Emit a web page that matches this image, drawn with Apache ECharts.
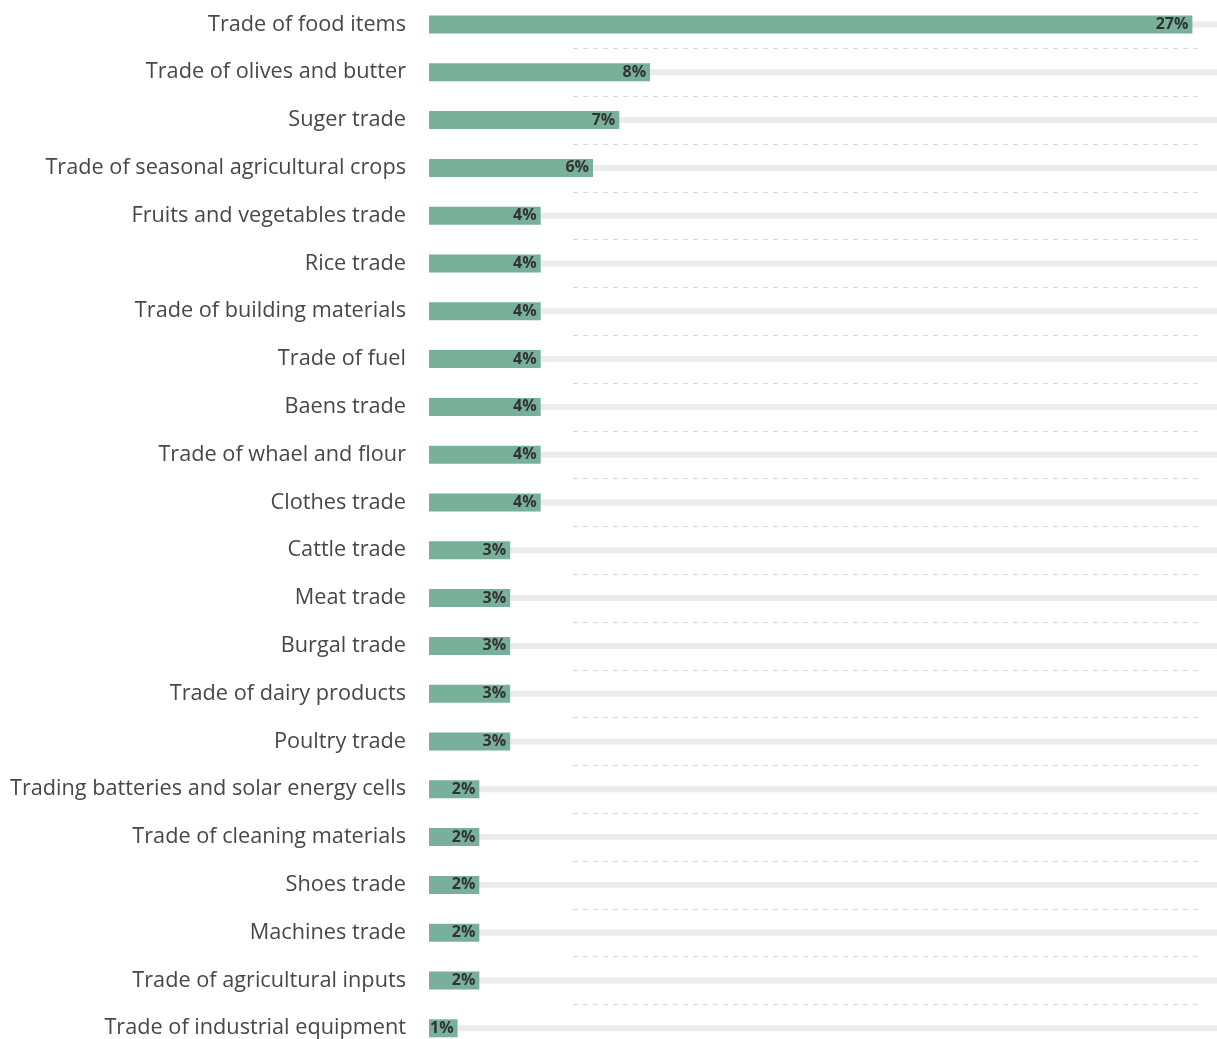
<!DOCTYPE html>
<html>
<head>
<meta charset="utf-8">
<style>
  html, body { margin: 0; padding: 0; background: #fff; }
  #chart { width: 1217px; height: 1039px; }
</style>
<script src="https://cdn.jsdelivr.net/npm/echarts@6/dist/echarts.min.js"></script>
</head>
<body>
<div id="chart"></div>
<script>
// Trade activity categories, top to bottom
const categories = [
  'Trade of food items',
  'Trade of olives and butter',
  'Suger trade',
  'Trade of seasonal agricultural crops',
  'Fruits and vegetables trade',
  'Rice trade',
  'Trade of building materials',
  'Trade of fuel',
  'Baens trade',
  'Trade of whael and flour',
  'Clothes trade',
  'Cattle trade',
  'Meat trade',
  'Burgal trade',
  'Trade of dairy products',
  'Poultry trade',
  'Trading batteries and solar energy cells',
  'Trade of cleaning materials',
  'Shoes trade',
  'Machines trade',
  'Trade of agricultural inputs',
  'Trade of industrial equipment'
];

// Share of each activity, in percent
const shares = [
  27.0, 7.82, 6.73, 5.8,
  3.95, 3.95, 3.95, 3.95, 3.95, 3.95, 3.95,
  2.87, 2.87, 2.87, 2.87, 2.87,
  1.78, 1.78, 1.78, 1.78, 1.78,
  1.01
];

// Full-length background track value (axis maximum)
const axisMax = 27.87;
const trackValues = categories.map(() => axisMax);

const chart = echarts.init(document.getElementById('chart'), null, { renderer: 'canvas' });

// Rows run slightly past the bottom edge of the canvas
const gridTop = 0.6;
const gridHeight = 47.8 * categories.length;

const gridBox = (left, width) => ({
  left,
  width,
  top: gridTop,
  height: gridHeight,
  containLabel: false,
  outerBoundsMode: 'none'
});

const hiddenCategoryAxis = (gridIndex) => ({
  gridIndex,
  type: 'category',
  data: categories,
  inverse: true,
  axisLine: { show: false },
  axisTick: { show: false },
  axisLabel: { show: false },
  splitLine: { show: false }
});

chart.setOption({
  animation: false,
  backgroundColor: '#ffffff',
  grid: [
    gridBox(429, 788),   // main bars + category labels
    gridBox(429, 788),   // light background tracks
    gridBox(573, 625)    // dashed row separators
  ],
  xAxis: [
    { gridIndex: 0, type: 'value', min: 0, max: axisMax, show: false },
    { gridIndex: 1, type: 'value', min: 0, max: axisMax, show: false },
    { gridIndex: 2, type: 'value', min: 0, max: 1, show: false }
  ],
  yAxis: [
    {
      gridIndex: 0,
      type: 'category',
      data: categories,
      inverse: true,
      z: 5,
      axisLine: { show: false },
      axisTick: { show: false },
      splitLine: { show: false },
      axisLabel: {
        margin: 23,
        color: '#474747',
        fontFamily: 'Open Sans',
        fontSize: 21.7
      }
    },
    hiddenCategoryAxis(1),
    Object.assign(hiddenCategoryAxis(2), {
      splitLine: {
        show: true,
        showMinLine: false,
        showMaxLine: false,
        lineStyle: { color: '#d8d8d8', width: 1, type: [5, 5] }
      }
    })
  ],
  series: [
    {
      type: 'bar',
      xAxisIndex: 1,
      yAxisIndex: 1,
      data: trackValues,
      barWidth: 6,
      itemStyle: { color: '#ececec' },
      silent: true,
      z: 1
    },
    {
      type: 'bar',
      xAxisIndex: 0,
      yAxisIndex: 0,
      data: shares,
      barWidth: 18,
      itemStyle: { color: '#78b09b' },
      label: {
        show: true,
        position: 'insideRight',
        distance: 4,
        color: '#333333',
        fontFamily: 'Open Sans',
        fontWeight: 'bold',
        fontSize: 16,
        formatter: (p) => Math.round(p.value) + '%'
      },
      z: 3
    },
    {
      type: 'bar',
      xAxisIndex: 2,
      yAxisIndex: 2,
      data: [],
      silent: true
    }
  ]
});
</script>
</body>
</html>
